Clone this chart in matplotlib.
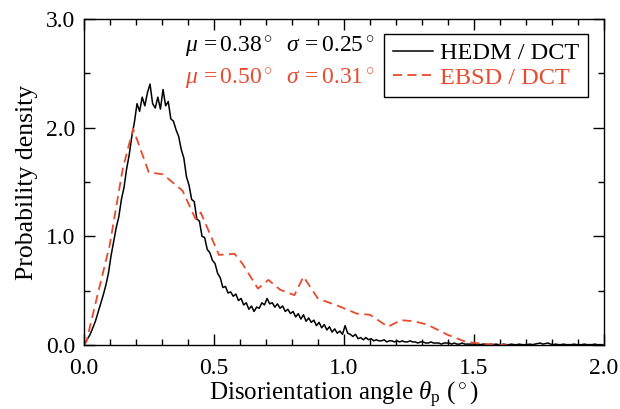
import numpy as np
import matplotlib
matplotlib.use('Agg')
import matplotlib.pyplot as plt
from matplotlib.ticker import MultipleLocator, FormatStrFormatter

plt.rcParams['font.family'] = ['Liberation Serif', 'DejaVu Serif']
plt.rcParams['mathtext.fontset'] = 'custom'
plt.rcParams['mathtext.rm'] = 'Liberation Serif'
plt.rcParams['mathtext.it'] = 'Liberation Serif:italic'
plt.rcParams['mathtext.bf'] = 'Liberation Serif:bold'

red = '#e84a2e'

# HEDM / DCT histogram, 0.01 deg bins
hedm_y = [
    0.02, 0.06, 0.10, 0.16, 0.22, 0.30, 0.38, 0.46, 0.55, 0.66,
    0.82, 0.95, 1.08, 1.18, 1.34, 1.45, 1.62, 1.75, 1.92, 2.05,
    2.22, 2.15, 2.28, 2.20, 2.32, 2.40, 2.22, 2.18, 2.28, 2.17,
    2.35, 2.20, 2.24, 2.08, 2.06, 1.98, 1.92, 1.80, 1.72, 1.55,
    1.47, 1.34, 1.32, 1.16, 1.14, 1.00, 0.99, 0.88, 0.85, 0.78,
    0.75, 0.66, 0.62, 0.53, 0.54, 0.48, 0.49, 0.45, 0.47, 0.41,
    0.43, 0.37, 0.39, 0.33, 0.36, 0.31, 0.35, 0.34, 0.39, 0.37,
    0.43, 0.38, 0.39, 0.35, 0.38, 0.34, 0.36, 0.31, 0.33, 0.29,
    0.31, 0.26, 0.29, 0.24, 0.28, 0.22, 0.25, 0.21, 0.23, 0.18,
    0.21, 0.16, 0.19, 0.14, 0.17, 0.12, 0.15, 0.11, 0.13, 0.10,
    0.18, 0.11, 0.10, 0.08, 0.10, 0.06, 0.07, 0.05, 0.07, 0.05,
    0.06, 0.04, 0.05, 0.04, 0.04, 0.05, 0.03, 0.04, 0.04, 0.03,
    0.04, 0.03, 0.04, 0.03, 0.03, 0.04, 0.03, 0.03, 0.02, 0.03,
    0.03, 0.02, 0.02, 0.03, 0.02, 0.02, 0.02, 0.01, 0.02, 0.02,
    0.02, 0.01, 0.02, 0.01, 0.01, 0.02, 0.01, 0.01, 0.01, 0.01,
    0.01, 0.01, 0.005, 0.01, 0.01, 0.005, 0.01, 0.005, 0.01, 0.005,
    0.005, 0.01, 0.005, 0.005, 0.01, 0.005, 0.005, 0.01, 0.005, 0.005,
    0.005, 0.01, 0.005, 0.01, 0.015, 0.02, 0.01, 0.015, 0.02, 0.01,
    0.005, 0.01, 0.005, 0.005, 0.01, 0.005, 0.005, 0.005, 0.01, 0.005,
    0.005, 0.005, 0.01, 0.005, 0.005, 0.005, 0.01, 0.005, 0.005, 0.005,
]
hedm_x = np.arange(len(hedm_y)) * 0.01 + 0.005

# EBSD / DCT curve
ebsd_x = [0.0, 0.01, 0.05, 0.10, 0.15, 0.19, 0.25, 0.305, 0.38, 0.43, 0.45,
          0.52, 0.58, 0.61, 0.67, 0.71, 0.755, 0.81, 0.845, 0.90, 0.99,
          1.05, 1.10, 1.17, 1.22, 1.27, 1.32, 1.40, 1.47, 1.55, 1.63]
ebsd_y = [0.0, 0.03, 0.43, 0.92, 1.62, 1.99, 1.59, 1.57, 1.42, 1.16, 1.22,
          0.83, 0.84, 0.75, 0.52, 0.60, 0.51, 0.46, 0.63, 0.43, 0.35,
          0.29, 0.28, 0.17, 0.23, 0.22, 0.19, 0.095, 0.03, 0.01, 0.0]

fig = plt.figure(figsize=(6.2, 4.09), dpi=100)
ax = fig.add_axes([0.135, 0.156, 0.839, 0.798])

ax.plot(hedm_x, hedm_y, color='black', lw=1.1, label='HEDM / DCT')
ax.plot(ebsd_x, ebsd_y, color=red, lw=1.3, ls=(0, (5, 3)), label='EBSD / DCT')

ax.set_xlim(0, 2.0)
ax.set_ylim(0, 3.0)
ax.xaxis.set_major_locator(MultipleLocator(0.5))
ax.xaxis.set_minor_locator(MultipleLocator(0.1))
ax.yaxis.set_major_locator(MultipleLocator(1.0))
ax.yaxis.set_minor_locator(MultipleLocator(0.5))
ax.xaxis.set_major_formatter(FormatStrFormatter('%.1f'))
ax.yaxis.set_major_formatter(FormatStrFormatter('%.1f'))
ax.tick_params(which='both', direction='in', top=True, right=True, labelsize=17)
ax.tick_params(axis='x', pad=9)
ax.tick_params(axis='y', pad=6)
ax.tick_params(which='major', length=8, width=1)
ax.tick_params(which='minor', length=4.5, width=1)
for s in ax.spines.values():
    s.set_linewidth(1)

ax.set_xlabel(r'Disorientation angle $\theta_{\rm p}$ ($^\circ$)', fontsize=18, labelpad=1)
ax.set_ylabel('Probability density', fontsize=18.5, labelpad=6)

ax.text(0.39, 2.74, r'$\mu\,= 0.38^\circ$  $\sigma\,= 0.25^\circ$', fontsize=17,
        color='black', va='center', ha='left')
ax.text(0.39, 2.44, r'$\mu\,= 0.50^\circ$  $\sigma\,= 0.31^\circ$', fontsize=17,
        color=red, va='center', ha='left')

leg = ax.legend(loc='upper right', bbox_to_anchor=(0.969, 0.954), fontsize=17.5,
                frameon=True, fancybox=False, edgecolor='black', framealpha=1,
                labelcolor='linecolor', handlelength=1.65, handletextpad=0.3,
                borderpad=0.35, labelspacing=0.1, borderaxespad=0)
leg.get_frame().set_linewidth(1)

fig.savefig('out.png', dpi=100)
